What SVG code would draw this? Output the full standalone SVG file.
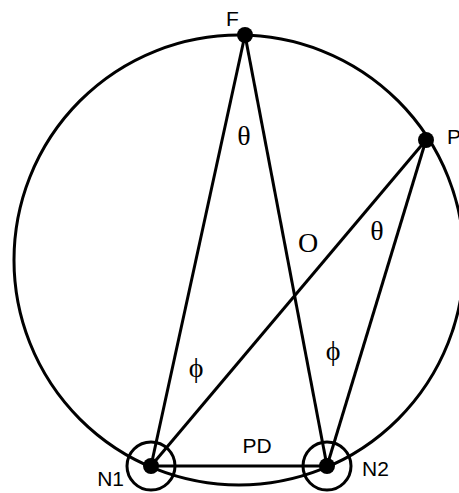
<svg xmlns="http://www.w3.org/2000/svg" width="459" height="493" viewBox="0 0 459 493">
<style>
.ln{stroke:#000;stroke-width:3;fill:none}
.dot{fill:#000}
.lab{font-family:"Liberation Sans",Arial,sans-serif;font-size:21px;fill:#000}
.gr{font-family:"Liberation Serif","DejaVu Serif",serif;font-size:28px;fill:#000;text-anchor:middle}
</style>
<rect width="459" height="493" fill="#fff"/>
<circle class="ln" cx="239" cy="260" r="225"/>
<g id="connectors">
<line class="ln" x1="245" y1="35" x2="151" y2="466"/>
<line class="ln" x1="245" y1="35" x2="327" y2="466"/>
<line class="ln" x1="426" y1="140" x2="151" y2="466"/>
<line class="ln" x1="426" y1="140" x2="327" y2="466"/>
<line class="ln" x1="151" y1="466" x2="327" y2="466"/>
</g>
<g id="F"><circle class="dot" cx="245" cy="35" r="8"/><text class="lab" x="226" y="26">F</text></g>
<g id="P"><circle class="dot" cx="426" cy="140" r="8"/><text class="lab" x="447" y="144">P</text></g>
<g id="N1"><circle class="ln" cx="151" cy="466" r="24"/><circle class="dot" cx="151" cy="466" r="8"/><text class="lab" x="124" y="486" text-anchor="end">N1</text></g>
<g id="N2"><circle class="ln" cx="327" cy="466" r="24"/><circle class="dot" cx="327" cy="466" r="8"/><text class="lab" x="362" y="476">N2</text></g>
<text class="lab" x="257" y="453" text-anchor="middle">PD</text>
<text class="gr" x="244" y="145">θ</text>
<text class="gr" x="377" y="240">θ</text>
<text class="gr" x="308" y="252">O</text>
<text class="gr" x="196" y="377">ϕ</text>
<text class="gr" x="333" y="360">ϕ</text>
</svg>
